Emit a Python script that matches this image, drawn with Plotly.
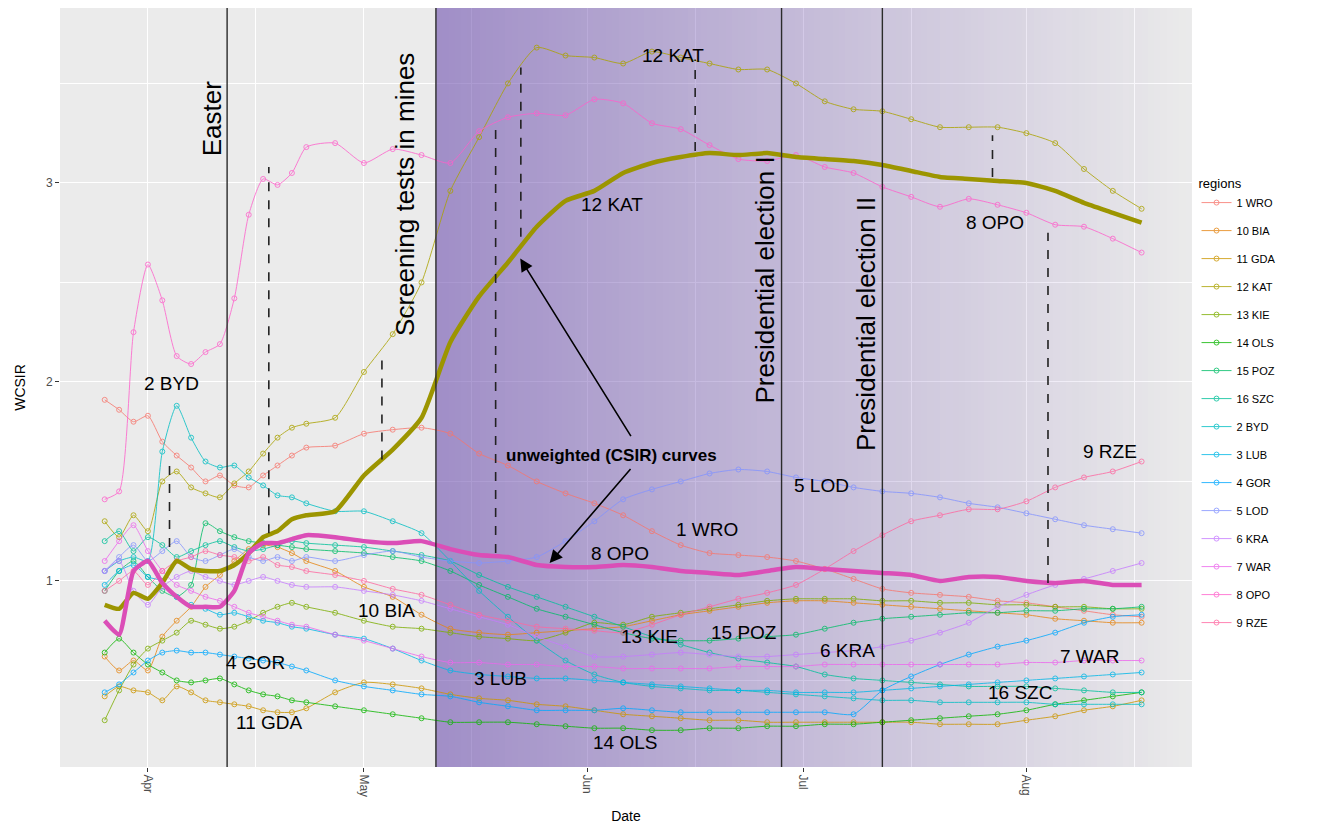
import math
import pandas as pd
import plotly.graph_objects as go

# ---------------- data ----------------
DATES = ["2020-03-26", "2020-03-28", "2020-03-30", "2020-04-01", "2020-04-03", "2020-04-05",
         "2020-04-07", "2020-04-09", "2020-04-11", "2020-04-13", "2020-04-15", "2020-04-17",
         "2020-04-19", "2020-04-21", "2020-04-23", "2020-04-27", "2020-05-01", "2020-05-05",
         "2020-05-09", "2020-05-13", "2020-05-17", "2020-05-21", "2020-05-25", "2020-05-29",
         "2020-06-02", "2020-06-06", "2020-06-10", "2020-06-14", "2020-06-18", "2020-06-22",
         "2020-06-26", "2020-06-30", "2020-07-04", "2020-07-08", "2020-07-12", "2020-07-16",
         "2020-07-20", "2020-07-24", "2020-07-28", "2020-08-01", "2020-08-05", "2020-08-09",
         "2020-08-13", "2020-08-17"]

WRO_1 = [1.91, 1.86, 1.80, 1.83, 1.70, 1.63, 1.57, 1.50, 1.53, 1.48, 1.47, 1.53, 1.58, 1.63, 1.67,
         1.68, 1.74, 1.76, 1.77, 1.74, 1.64, 1.58, 1.50, 1.44, 1.39, 1.33, 1.25, 1.18, 1.14, 1.13,
         1.12, 1.10, 1.06, 1.01, 0.96, 0.94, 0.93, 0.92, 0.90, 0.89, 0.87, 0.85, 0.83, 0.82]
BIA_10 = [0.62, 0.55, 0.60, 0.55, 0.72, 0.80, 0.87, 0.97, 1.03, 1.10, 1.16, 1.18, 1.17, 1.14, 1.10,
          1.05, 0.97, 0.92, 0.83, 0.76, 0.74, 0.73, 0.74, 0.75, 0.76, 0.77, 0.80, 0.83, 0.85, 0.87,
          0.89, 0.90, 0.90, 0.89, 0.88, 0.87, 0.86, 0.85, 0.84, 0.83, 0.81, 0.80, 0.79, 0.79]
GDA_11 = [0.42, 0.47, 0.45, 0.44, 0.40, 0.47, 0.44, 0.40, 0.39, 0.38, 0.37, 0.35, 0.34, 0.34, 0.36,
          0.44, 0.49, 0.48, 0.46, 0.43, 0.41, 0.40, 0.38, 0.37, 0.35, 0.33, 0.32, 0.31, 0.30, 0.30,
          0.29, 0.29, 0.29, 0.29, 0.29, 0.29, 0.28, 0.28, 0.28, 0.30, 0.32, 0.35, 0.37, 0.40]
KAT_12 = [1.30, 1.22, 1.33, 1.25, 1.50, 1.55, 1.47, 1.44, 1.42, 1.49, 1.55, 1.64, 1.72, 1.77, 1.79,
          1.82, 2.05, 2.24, 2.50, 2.96, 3.23, 3.50, 3.68, 3.64, 3.63, 3.60, 3.66, 3.63, 3.60, 3.57,
          3.57, 3.50, 3.41, 3.37, 3.36, 3.32, 3.28, 3.28, 3.28, 3.25, 3.20, 3.07, 2.96, 2.87]
KIE_13 = [0.30, 0.45, 0.58, 0.66, 0.70, 0.74, 0.80, 0.78, 0.76, 0.77, 0.80, 0.84, 0.87, 0.89, 0.87,
          0.84, 0.80, 0.77, 0.76, 0.74, 0.72, 0.71, 0.70, 0.74, 0.79, 0.78, 0.82, 0.84, 0.86, 0.88,
          0.90, 0.91, 0.91, 0.91, 0.90, 0.90, 0.89, 0.89, 0.88, 0.88, 0.87, 0.87, 0.86, 0.86]
OLS_14 = [0.64, 0.71, 0.64, 0.58, 0.54, 0.50, 0.49, 0.50, 0.51, 0.48, 0.45, 0.43, 0.42, 0.40, 0.39,
          0.37, 0.35, 0.33, 0.31, 0.29, 0.29, 0.29, 0.28, 0.27, 0.26, 0.26, 0.25, 0.25, 0.26, 0.26,
          0.27, 0.27, 0.28, 0.28, 0.29, 0.30, 0.31, 0.32, 0.33, 0.35, 0.38, 0.40, 0.42, 0.44]
POZ_15 = [0.95, 1.05, 1.10, 1.02, 0.95, 0.92, 0.98, 1.29, 1.25, 1.22, 1.20, 1.19, 1.18, 1.17, 1.16,
          1.15, 1.14, 1.12, 1.10, 1.05, 0.98, 0.92, 0.86, 0.82, 0.78, 0.74, 0.71, 0.70, 0.70, 0.71,
          0.72, 0.73, 0.76, 0.79, 0.81, 0.82, 0.83, 0.84, 0.84, 0.85, 0.85, 0.86, 0.86, 0.87]
SZC_16 = [1.20, 1.25, 1.15, 1.22, 1.18, 1.12, 1.15, 1.18, 1.20, 1.17, 1.15, 1.16, 1.18, 1.20, 1.19,
          1.18, 1.17, 1.15, 1.13, 1.10, 1.03, 0.97, 0.92, 0.87, 0.82, 0.77, 0.72, 0.68, 0.64, 0.61,
          0.59, 0.57, 0.53, 0.51, 0.50, 0.49, 0.48, 0.47, 0.47, 0.47, 0.46, 0.45, 0.44, 0.44]
BYD_2 = [1.05, 1.10, 1.12, 1.10, 1.65, 1.88, 1.72, 1.60, 1.57, 1.58, 1.52, 1.48, 1.43, 1.42, 1.39,
         1.35, 1.35, 1.30, 1.24, 1.10, 0.95, 0.82, 0.70, 0.60, 0.53, 0.49, 0.47, 0.46, 0.45, 0.45,
         0.44, 0.43, 0.42, 0.41, 0.40, 0.40, 0.39, 0.39, 0.39, 0.39, 0.38, 0.38, 0.38, 0.38]
LUB_3 = [0.98, 1.05, 1.08, 1.02, 1.00, 0.92, 0.88, 0.86, 0.83, 0.84, 0.82, 0.80, 0.79, 0.77, 0.76,
         0.73, 0.71, 0.66, 0.60, 0.55, 0.53, 0.52, 0.51, 0.51, 0.50, 0.49, 0.48, 0.47, 0.46, 0.45,
         0.45, 0.44, 0.44, 0.44, 0.45, 0.46, 0.47, 0.48, 0.49, 0.50, 0.51, 0.52, 0.53, 0.54]
GOR_4 = [0.44, 0.48, 0.54, 0.60, 0.64, 0.65, 0.64, 0.64, 0.63, 0.62, 0.61, 0.60, 0.59, 0.57, 0.55,
         0.50, 0.47, 0.45, 0.43, 0.42, 0.39, 0.37, 0.35, 0.35, 0.35, 0.36, 0.35, 0.34, 0.34, 0.34,
         0.34, 0.34, 0.34, 0.33, 0.45, 0.52, 0.58, 0.63, 0.67, 0.70, 0.74, 0.79, 0.82, 0.83]
LOD_5 = [1.05, 1.12, 1.18, 1.10, 1.15, 1.20, 1.12, 1.10, 1.13, 1.16, 1.12, 1.10, 1.12, 1.10, 1.12,
         1.10, 1.13, 1.15, 1.12, 1.10, 1.09, 1.10, 1.12, 1.20, 1.30, 1.41, 1.46, 1.50, 1.54, 1.56,
         1.55, 1.52, 1.50, 1.47, 1.45, 1.44, 1.42, 1.39, 1.37, 1.34, 1.31, 1.28, 1.26, 1.24]
KRA_6 = [1.05, 1.10, 0.95, 0.88, 0.97, 1.02, 1.05, 1.02, 1.00, 0.98, 1.00, 1.02, 1.00, 0.98, 0.97,
         0.97, 0.95, 0.93, 0.90, 0.86, 0.82, 0.78, 0.72, 0.67, 0.62, 0.62, 0.63, 0.64, 0.63, 0.62,
         0.62, 0.63, 0.64, 0.65, 0.67, 0.70, 0.74, 0.79, 0.87, 0.93, 0.98, 1.01, 1.05, 1.09]
WAR_7 = [1.10, 1.20, 1.28, 1.15, 1.05, 0.98, 0.95, 0.92, 0.90, 0.87, 0.84, 0.82, 0.80, 0.78, 0.77,
         0.73, 0.70, 0.66, 0.62, 0.59, 0.59, 0.58, 0.58, 0.57, 0.57, 0.56, 0.56, 0.56, 0.56, 0.57,
         0.57, 0.57, 0.58, 0.58, 0.58, 0.58, 0.58, 0.58, 0.58, 0.59, 0.59, 0.60, 0.60, 0.60]
OPO_8 = [1.41, 1.45, 2.25, 2.59, 2.41, 2.13, 2.09, 2.15, 2.19, 2.42, 2.84, 3.02, 2.99, 3.05, 3.18,
         3.20, 3.10, 3.17, 3.14, 3.10, 3.26, 3.33, 3.35, 3.34, 3.42, 3.40, 3.30, 3.27, 3.19, 3.12,
         3.11, 3.14, 3.08, 3.05, 2.98, 2.93, 2.88, 2.92, 2.89, 2.85, 2.79, 2.78, 2.72, 2.65]
RZE_9 = [0.95, 1.00, 1.05, 0.98, 1.05, 1.10, 1.12, 1.15, 1.13, 1.12, 1.10, 1.12, 1.08, 1.07, 1.05,
         1.03, 1.00, 0.96, 0.93, 0.88, 0.83, 0.80, 0.77, 0.76, 0.75, 0.74, 0.78, 0.83, 0.87, 0.91,
         0.94, 0.98, 1.06, 1.15, 1.23, 1.30, 1.33, 1.36, 1.36, 1.40, 1.47, 1.52, 1.55, 1.60]

# unweighted (CSIR) curves
KAT_12_CSIR = [0.88, 0.86, 0.94, 0.91, 0.99, 1.10, 1.06, 1.05, 1.05, 1.08, 1.14, 1.22, 1.25, 1.31, 1.33,
               1.35, 1.53, 1.66, 1.82, 2.20, 2.43, 2.60, 2.78, 2.91, 2.96, 3.05, 3.10, 3.13, 3.15, 3.14,
               3.15, 3.13, 3.12, 3.11, 3.09, 3.06, 3.03, 3.02, 3.01, 3.00, 2.96, 2.90, 2.85, 2.80]
OPO_8_CSIR = [0.80, 0.73, 1.05, 1.10, 0.99, 0.92, 0.87, 0.87, 0.87, 0.95, 1.14, 1.19, 1.19, 1.21, 1.23,
              1.22, 1.20, 1.19, 1.20, 1.16, 1.13, 1.12, 1.08, 1.07, 1.07, 1.08, 1.07, 1.05, 1.04, 1.03,
              1.05, 1.07, 1.06, 1.05, 1.04, 1.03, 1.00, 1.02, 1.02, 1.00, 0.99, 1.00, 0.98, 0.98]

REGIONS = ["1 WRO", "10 BIA", "11 GDA", "12 KAT", "13 KIE", "14 OLS", "15 POZ", "16 SZC",
           "2 BYD", "3 LUB", "4 GOR", "5 LOD", "6 KRA", "7 WAR", "8 OPO", "9 RZE"]
SERIES = [WRO_1, BIA_10, GDA_11, KAT_12, KIE_13, OLS_14, POZ_15, SZC_16,
          BYD_2, LUB_3, GOR_4, LOD_5, KRA_6, WAR_7, OPO_8, RZE_9]

EVENT_DATES = ["2020-04-12", "2020-05-11", "2020-06-28", "2020-07-12"]
EVENT_NAMES = ["Easter", "Screening tests in mines", "Presidential election I", "Presidential election II"]
EVENT_LABEL_DATES = ["2020-04-09 22:00", "2020-05-06 17:00", "2020-06-25 17:00", "2020-07-09 17:00"]
EVENT_LABEL_Y = [3.32, 2.94, 2.51, 2.29]

LAG_DATES = ["2020-04-04", "2020-04-17 19:00", "2020-05-03 12:00", "2020-05-19 07:00",
             "2020-05-22 19:00", "2020-06-16", "2020-07-27 07:00", "2020-08-04"]
LAG_Y0 = [1.17, 1.24, 1.61, 1.14, 2.73, 3.16, 3.03, 0.99]
LAG_Y1 = [1.60, 3.08, 2.14, 3.28, 3.58, 3.62, 3.24, 2.75]

LABEL_TEXT = ["2 BYD", "12 KAT", "12 KAT", "1 WRO", "5 LOD", "8 OPO", "8 OPO", "9 RZE", "10 BIA",
              "13 KIE", "15 POZ", "6 KRA", "7 WAR", "4 GOR", "3 LUB", "16 SZC", "11 GDA", "14 OLS"]
LABEL_DATES = ["2020-04-04 07:00", "2020-06-12 22:00", "2020-06-04 10:00", "2020-06-17 14:00",
               "2020-07-03 14:00", "2020-06-05 14:00", "2020-07-27 14:00", "2020-08-12 14:00",
               "2020-05-04 02:00", "2020-06-09 17:00", "2020-06-22 19:00", "2020-07-07 05:00",
               "2020-08-09 19:00", "2020-04-15 22:00", "2020-05-19 22:00", "2020-07-31 02:00",
               "2020-04-17 22:00", "2020-06-06 07:00"]
LABEL_Y = [1.99, 3.64, 2.89, 1.26, 1.48, 1.14, 2.80, 1.65, 0.85, 0.72, 0.74, 0.65, 0.62, 0.59,
           0.51, 0.44, 0.29, 0.19]

X_RANGE = ["2020-03-19 19:00", "2020-08-24"]
Y_RANGE = [0.065, 3.879]

# ---------------- helpers ----------------
def hcl_hex(h, c=100.0, l=65.0):
    hr = math.radians(h)
    U, V = c * math.cos(hr), c * math.sin(hr)
    Xn, Yn, Zn = 95.047, 100.0, 108.883
    Y = Yn * ((l + 16) / 116) ** 3 if l > 8 else Yn * l / 903.3
    den = Xn + 15 * Yn + 3 * Zn
    un, vn = 4 * Xn / den, 9 * Yn / den
    u, v = U / (13 * l) + un, V / (13 * l) + vn
    X = 9.0 * Y * u / (4 * v)
    Z = -X / 3 - 5 * Y + 3 * Y / v
    X, Y, Z = X / 100, Y / 100, Z / 100
    r = 3.240479 * X - 1.537150 * Y - 0.498535 * Z
    g = -0.969256 * X + 1.875992 * Y + 0.041556 * Z
    b = 0.055648 * X - 0.204043 * Y + 1.057311 * Z

    def gam(x):
        x = 12.92 * x if x <= 0.0031308 else 1.055 * x ** (1 / 2.4) - 0.055
        return int(min(255, max(0, round(255 * x))))
    return "#%02X%02X%02X" % (gam(r), gam(g), gam(b))


n = len(REGIONS)
COLORS = [hcl_hex(15 + 360.0 * i / n) for i in range(n)]
COLOR = dict(zip(REGIONS, COLORS))

FONT = "Liberation Sans, Arial, Helvetica, sans-serif"

fig = go.Figure()

# ---------------- shading gradient (drawn above gridlines, below curves) ----------------
start = pd.Timestamp(EVENT_DATES[1])
end = pd.Timestamp(X_RANGE[1])
NSTRIP = 120
span = (end - start) / NSTRIP
edges = [(start + span * i).strftime("%Y-%m-%d %H:%M:%S") for i in range(NSTRIP + 1)]
alphas = [0.6 * (1 - (i + 0.5) / NSTRIP) for i in range(NSTRIP)]
fig.add_trace(go.Heatmap(
    x=edges, y=[-1, 6], z=[alphas], zmin=0, zmax=1, showscale=False, hoverinfo="skip",
    colorscale=[[0, "rgba(110,80,175,0)"], [1, "rgba(110,80,175,1)"]], showlegend=False,
))

for name, vals in zip(REGIONS, SERIES):
    fig.add_trace(go.Scatter(
        x=DATES, y=vals, name=name, mode="lines+markers", legendgroup=name,
        line=dict(color=COLOR[name], width=1, shape="spline", smoothing=0.6),
        marker=dict(symbol="circle-open", size=5, color=COLOR[name], line=dict(width=1)),
        opacity=0.8,
    ))

fig.add_trace(go.Scatter(x=DATES, y=KAT_12_CSIR, mode="lines", showlegend=False, hoverinfo="skip",
                         line=dict(color=hcl_hex(82.5, 85, 60), width=4.5, shape="spline", smoothing=0.5)))
fig.add_trace(go.Scatter(x=DATES, y=OPO_8_CSIR, mode="lines", showlegend=False, hoverinfo="skip",
                         line=dict(color=hcl_hex(325, 90, 56), width=4.5, shape="spline", smoothing=0.5)))

shapes = []
for d in EVENT_DATES:
    shapes.append(dict(type="line", xref="x", yref="paper", x0=d, x1=d, y0=0, y1=1,
                       line=dict(color="#2b2b2b", width=1.4), layer="above"))

for d, y0, y1 in zip(LAG_DATES, LAG_Y0, LAG_Y1):
    shapes.append(dict(type="line", xref="x", yref="y", x0=d, x1=d, y0=y0, y1=y1,
                       line=dict(color="#222222", width=1.6, dash="dash"), layer="above"))

annotations = []
for txt, d, y in zip(EVENT_NAMES, EVENT_LABEL_DATES, EVENT_LABEL_Y):
    annotations.append(dict(x=d, y=y, xref="x", yref="y", text=txt, showarrow=False,
                            textangle=-90, font=dict(family=FONT, size=26, color="black")))
for txt, d, y in zip(LABEL_TEXT, LABEL_DATES, LABEL_Y):
    annotations.append(dict(x=d, y=y, xref="x", yref="y", text=txt, showarrow=False,
                            font=dict(family=FONT, size=19, color="black")))

annotations.append(dict(x="2020-06-04 08:00", y=1.63, xref="x", yref="y",
                        text="<b>unweighted (CSIR) curves</b>", showarrow=False,
                        font=dict(family=FONT, size=17, color="black")))
annotations.append(dict(x="2020-05-22 17:00", y=2.62, ax="2020-06-07 05:00", ay=1.72,
                        xref="x", yref="y", axref="x", ayref="y", text="", showarrow=True,
                        arrowhead=2, arrowsize=1.6, arrowwidth=1.6, arrowcolor="black"))
annotations.append(dict(x="2020-05-26 19:00", y=1.09, ax="2020-06-07 05:00", ay=1.57,
                        xref="x", yref="y", axref="x", ayref="y", text="", showarrow=True,
                        arrowhead=2, arrowsize=1.6, arrowwidth=1.6, arrowcolor="black"))

fig.update_layout(
    width=1333, height=827, template="none",
    paper_bgcolor="white", plot_bgcolor="#EBEBEB",
    margin=dict(l=52, r=149, t=0, b=68),
    font=dict(family=FONT, color="black"),
    shapes=shapes, annotations=annotations,
    showlegend=True,
    legend=dict(x=1.004, xanchor="left", y=0.785, yanchor="top",
                title=dict(text="regions", font=dict(size=13, family=FONT)),
                font=dict(size=11, family=FONT), tracegroupgap=9.0, itemwidth=30,
                bgcolor="white"),
)
fig.update_xaxes(
    type="date", range=X_RANGE, automargin=False,
    tick0="2020-04-01", dtick="M1", tickformat="%b", tickangle=90,
    ticks="outside", ticklen=4, tickcolor="#333333", tickfont=dict(size=12, color="#4D4D4D"),
    showgrid=True, gridcolor="white", gridwidth=1.2, zeroline=False, showline=False,
    minor=dict(tickvals=["2020-03-16", "2020-04-16", "2020-05-16", "2020-06-16", "2020-07-16",
                         "2020-08-16"], showgrid=True, gridcolor="white", gridwidth=0.6),
    title=dict(text="Date", font=dict(size=14), standoff=15),
)
fig.update_yaxes(
    range=Y_RANGE, automargin=False, tickvals=[1, 2, 3],
    ticks="outside", ticklen=4, tickcolor="#333333", tickfont=dict(size=12, color="#4D4D4D"),
    showgrid=True, gridcolor="white", gridwidth=1.2, zeroline=False, showline=False,
    minor=dict(tickvals=[0.5, 1.5, 2.5, 3.5], showgrid=True, gridcolor="white", gridwidth=0.6),
    title=dict(text="WCSIR", font=dict(size=14), standoff=17),
)

fig.write_html("out.html")
